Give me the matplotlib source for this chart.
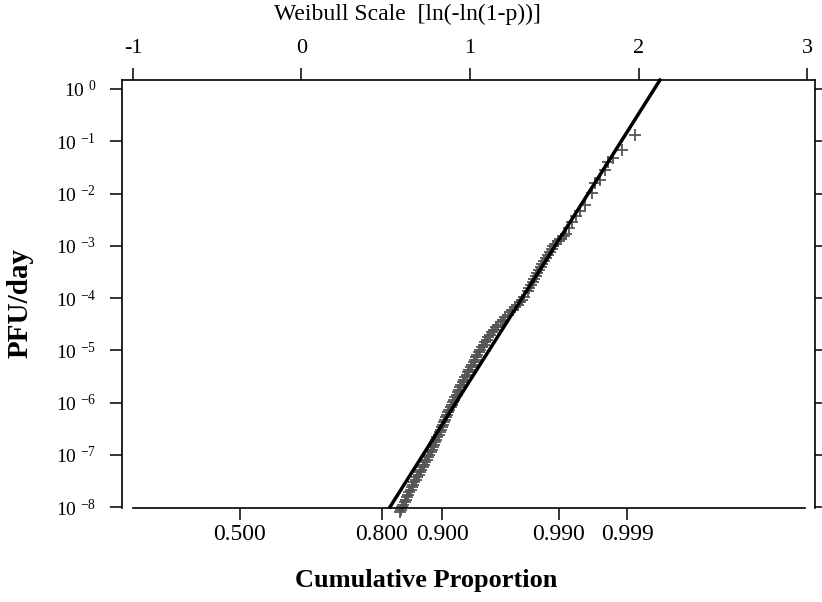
import numpy as np
import matplotlib
matplotlib.use("Agg")
import matplotlib.pyplot as plt
from matplotlib.ticker import NullLocator

plt.rcParams['font.family'] = ['Liberation Serif', 'DejaVu Serif']
plt.rcParams['mathtext.fontset'] = 'custom'
plt.rcParams['mathtext.rm'] = 'Liberation Serif'

# plotting positions on the Weibull scale, ln(-ln(1-p)), and log10 of PFU/day
weibull_pos = [0.5846, 0.5911, 0.5976, 0.6042, 0.6113, 0.6187, 0.6261, 0.6335, 0.6409, 0.6484,
               0.6558, 0.6632, 0.6706, 0.6789, 0.6872, 0.6950, 0.7033, 0.7116, 0.7193, 0.7276,
               0.7359, 0.7436, 0.7519, 0.7596, 0.7680, 0.7757, 0.7822, 0.7881, 0.7947, 0.8012,
               0.8071, 0.8136, 0.8196, 0.8261, 0.8326, 0.8386, 0.8451, 0.8510, 0.8576, 0.8647,
               0.8712, 0.8783, 0.8855, 0.8926, 0.8991, 0.9062, 0.9134, 0.9205, 0.9276, 0.9341,
               0.9412, 0.9484, 0.9555, 0.9638, 0.9721, 0.9798, 0.9881, 0.9964, 1.0042, 1.0125,
               1.0208, 1.0285, 1.0368, 1.0445, 1.0528, 1.0611, 1.0706, 1.0807, 1.0902, 1.0997,
               1.1092, 1.1187, 1.1300, 1.1430, 1.1561, 1.1686, 1.1816, 1.1947, 1.2077, 1.2226,
               1.2374, 1.2522, 1.2671, 1.2819, 1.2967, 1.3110, 1.3211,
               1.344, 1.353, 1.362, 1.371, 1.380, 1.389, 1.398, 1.408, 1.419, 1.429,
               1.439, 1.450, 1.462, 1.472, 1.484, 1.495, 1.506, 1.522, 1.540, 1.555,
               1.570, 1.588, 1.605, 1.629, 1.653, 1.682, 1.722, 1.742, 1.772, 1.801,
               1.819, 1.849, 1.900, 1.979]
log_pfu = [-8.0957, -8.0478, -8.0000, -7.9522, -7.9043, -7.8565, -7.8086, -7.7608, -7.7129, -7.6651,
           -7.6172, -7.5694, -7.5215, -7.4737, -7.4258, -7.3780, -7.3301, -7.2823, -7.2344, -7.1866,
           -7.1388, -7.0909, -7.0431, -6.9952, -6.9474, -6.8995, -6.8517, -6.8038, -6.7560, -6.7081,
           -6.6603, -6.6124, -6.5646, -6.5167, -6.4689, -6.4211, -6.3732, -6.3254, -6.2775, -6.2297,
           -6.1818, -6.1340, -6.0861, -6.0383, -5.9904, -5.9426, -5.8947, -5.8469, -5.7990, -5.7512,
           -5.7033, -5.6555, -5.6077, -5.5598, -5.5120, -5.4641, -5.4163, -5.3684, -5.3206, -5.2727,
           -5.2249, -5.1770, -5.1292, -5.0813, -5.0335, -4.9856, -4.9378, -4.8900, -4.8421, -4.7943,
           -4.7464, -4.6986, -4.6507, -4.6029, -4.5550, -4.5072, -4.4593, -4.4115, -4.3636, -4.3158,
           -4.2679, -4.2201, -4.1722, -4.1244, -4.0766, -4.0287, -3.9809,
           -3.866, -3.809, -3.751, -3.694, -3.636, -3.579, -3.522, -3.464, -3.407, -3.349,
           -3.292, -3.234, -3.177, -3.120, -3.062, -3.005, -2.967, -2.909, -2.871, -2.813,
           -2.775, -2.660, -2.545, -2.431, -2.335, -2.220, -1.990, -1.799, -1.742, -1.550,
           -1.397, -1.321, -1.167, -0.880]

# fitted line end points
fit_pos = [0.525, 2.127]
fit_log_pfu = [-8.0, 0.17]

# axes ticks
weibull_ticks = [-1, 0, 1, 2, 3]
prop_ticks = [0.500, 0.800, 0.900, 0.990, 0.999]
prop_labels = ['0.500', '0.800', '0.900', '0.990', '0.999']
y_exps = [0, -1, -2, -3, -4, -5, -6, -7, -8]

pfu = 10.0 ** np.array(log_pfu)
fit_pfu = 10.0 ** np.array(fit_log_pfu)

fig = plt.figure(figsize=(8.22, 6.02), dpi=100)
ax = fig.add_axes([0.1484, 0.1561, 0.8431, 0.7110])

ax.plot(weibull_pos, pfu, linestyle='none', marker='+', markersize=9,
        markeredgewidth=1.3, color='#555555', clip_on=False, zorder=2)
ax.plot(fit_pos, fit_pfu, color='black', linewidth=2.5, clip_on=False, zorder=3)

ax.set_yscale('log')
ax.set_xlim(-1.0653, 3.0475)
ax.set_ylim(10 ** -8.019, 10 ** 0.172)
ax.yaxis.set_minor_locator(NullLocator())
ax.set_yticks([10.0 ** e for e in y_exps])
ax.set_yticklabels([r'$\mathregular{10^{\ {%d}}}$' % e for e in y_exps], fontsize=14)

# bottom axis: cumulative proportion on the Weibull scale
prop_pos = [np.log(-np.log(1 - p)) for p in prop_ticks]
ax.set_xticks(prop_pos)
ax.set_xticklabels(prop_labels, fontsize=17)

ax.tick_params(axis='both', direction='out', length=8.5, width=1.1, color='black')
ax.tick_params(axis='y', right=True, pad=10)
ax.tick_params(axis='x', pad=3)

for side in ['left', 'bottom', 'right']:
    ax.spines[side].set_linewidth(1.2)
ax.spines['top'].set_visible(False)
ax.spines['bottom'].set_bounds(-1.0, 2.99)

sec = ax.secondary_xaxis('top')
sec.set_xticks(weibull_ticks)
sec.set_xticklabels([str(t) for t in weibull_ticks], fontsize=16)
sec.tick_params(direction='out', length=8.5, width=1.1, pad=7)
sec.spines['top'].set_linewidth(1.2)

fig.text(407 / 822, 1 - 14 / 602, 'Weibull Scale  [ln(-ln(1-p))]', fontsize=17,
         ha='center', va='center')
fig.text(426 / 822, 1 - 581 / 602, 'Cumulative Proportion', fontsize=19,
         fontweight='bold', ha='center', va='center')
fig.text(20 / 822, 1 - 303 / 602, 'PFU/day', fontsize=21, fontweight='bold',
         rotation=90, ha='center', va='center')

fig.savefig('out.png', dpi=100)
